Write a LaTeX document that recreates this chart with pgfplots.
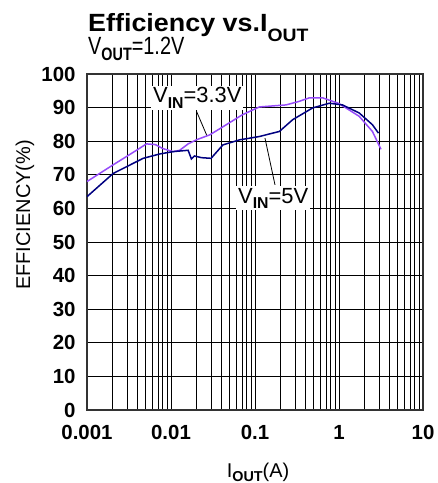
\documentclass[border=0pt]{standalone}
\usepackage{fontspec}
\setmainfont{Liberation Sans}
\usepackage{graphicx}
\usepackage{pgfplots}
\pgfplotsset{compat=1.18}
\definecolor{vio}{RGB}{150,75,250}
\definecolor{navy}{RGB}{0,0,128}
% subscript: text lowered by #1, scaled down
\newcommand\sub[2][-0.45ex]{\raisebox{#1}{\scalebox{0.72}{#2}}}

\begin{document}
\begin{tikzpicture}
\useasboundingbox (-87bp,-73bp) rectangle (351bp,410bp);
\begin{axis}[
    at={(0,0)}, anchor=south west,
    scale only axis,
    width=336bp, height=336bp,
    xmode=log,
    xmin=0.001, xmax=10,
    ymin=0, ymax=100,
    ytick={0,10,...,100},
    xtick={0.001,0.01,0.1,1,10},
    xticklabels={0.001,0.01,0.1,1,10},
    grid=both,
    major grid style={black, line width=0.8bp},
    minor grid style={black, line width=0.8bp},
    axis line style={line width=1.8bp, black!80},
    tick style={draw=none},
    ticklabel style={font=\fontsize{20.5}{20.5}\selectfont\bfseries},
    xticklabel style={yshift=-12bp},
    yticklabel style={xshift=-8bp},
    /pgf/number format/assume math mode=true,
]

% VIN = 3.3V
\addplot[color=vio, line width=1.5bp, mark=none] coordinates {
    (0.001, 68.0)
    (0.002, 72.8)
    (0.004, 77.5)
    (0.0051, 79.2)
    (0.0065, 79.0)
    (0.008, 77.8)
    (0.0106, 76.9)
    (0.0127, 77.3)
    (0.016, 79.2)
    (0.020, 80.4)
    (0.029, 81.9)
    (0.0455, 84.9)
    (0.07, 87.8)
    (0.094, 89.3)
    (0.113, 90.2)
    (0.234, 90.8)
    (0.33, 91.8)
    (0.443, 92.9)
    (0.64, 92.9)
    (1.0, 91.2)
    (1.74, 87.4)
    (2.5, 82.9)
    (3.16, 77.6)
};

% VIN = 5V
\addplot[color=navy, line width=1.5bp, mark=none] coordinates {
    (0.001, 63.5)
    (0.00205, 70.4)
    (0.00466, 74.9)
    (0.00735, 76.2)
    (0.0106, 76.9)
    (0.016, 77.3)
    (0.0175, 74.7)
    (0.019, 75.6)
    (0.023, 75.1)
    (0.030, 74.9)
    (0.0415, 78.9)
    (0.0655, 80.4)
    (0.113, 81.4)
    (0.195, 82.9)
    (0.281, 86.4)
    (0.485, 89.9)
    (0.766, 91.3)
    (1.10, 90.8)
    (1.74, 88.4)
    (2.5, 84.9)
    (2.95, 82.4)
};

% labels with leader lines
\draw[black, line width=0.8bp] (axis cs:0.0202,88.8) -- (axis cs:0.0266,81.8);
\draw[black, line width=0.8bp] (axis cs:0.1315,80.9) -- (axis cs:0.173,67.0);
\node[anchor=base west, fill=white, inner sep=2bp, xshift=-2bp,
      font=\fontsize{22}{22}\selectfont]
    at (axis cs:0.0061,91.4) {V\sub{\bfseries IN}=3.3V};
\node[anchor=base west, fill=white, inner sep=2bp, xshift=-2bp,
      font=\fontsize{22}{22}\selectfont]
    at (axis cs:0.0628,61.6) {V\sub{\bfseries IN}=5V};
\end{axis}

% titles and axis labels
\node[anchor=base west, inner sep=0pt] at (1bp,378bp)
    {\scalebox{1.08}[1]{\fontsize{25}{25}\selectfont\bfseries Efficiency vs.I\sub[-0.7ex]{OUT}}};
\node[anchor=base west, inner sep=0pt] at (1bp,355bp)
    {\scalebox{0.8}[1]{\fontsize{25}{25}\selectfont V\sub[-0.45ex]{\bfseries OUT}=1.2V}};
\node[rotate=90, inner sep=0pt, font=\fontsize{20}{20}\selectfont] at (-62bp,195bp) {EFFICIENCY(\%)};
\node[anchor=base, inner sep=0pt, font=\fontsize{20}{20}\selectfont] at (171bp,-67bp) {I\sub{\bfseries OUT}(A)};
\end{tikzpicture}
\end{document}
